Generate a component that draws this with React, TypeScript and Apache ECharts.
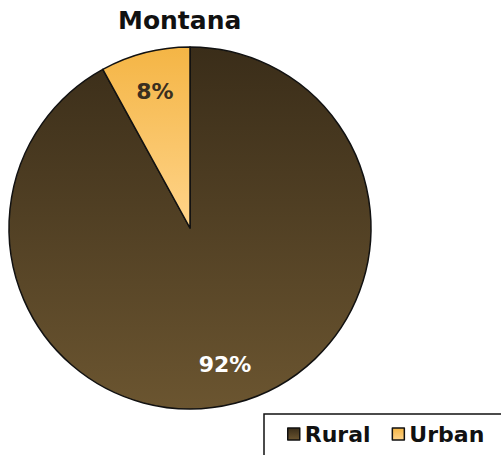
import React, { useEffect, useRef } from "react";
import * as echarts from "echarts";

const titleText = "Montana";
const categories = ["Rural", "Urban"];
const values = [92, 8];
const labelColors = ["#ffffff", "#3a2f1f"];
const gradients = [
  ["#3a2d19", "#6b5530"],
  ["#f4b545", "#ffd48a"],
];

const FONT = "'DejaVu Sans', Lato, sans-serif";

export default function App() {
  const ref = useRef<HTMLDivElement>(null);
  useEffect(() => {
    if (!ref.current) return;
    const chart = echarts.init(ref.current, null, { renderer: "svg" });
    const grad = (i: number) =>
      new echarts.graphic.LinearGradient(0, 0, 0, 1, [
        { offset: 0, color: gradients[i][0] },
        { offset: 1, color: gradients[i][1] },
      ]);
    const data = categories.map((c, i) => ({
      name: c,
      value: values[i],
      itemStyle: { color: grad(i) },
    }));
    chart.setOption({
      animation: false,
      title: {
        text: titleText,
        left: 113,
        top: 3,
        textStyle: { fontFamily: FONT, fontWeight: "bold", fontSize: 25, color: "#111" },
      },
      graphic: [
        {
          type: "rect",
          shape: { x: 264, y: 414, width: 260, height: 60 },
          style: { fill: "#fff", stroke: "#111", lineWidth: 1.5 },
          z: 0,
        },
      ],
      legend: {
        data: categories,
        left: 282,
        top: 418,
        icon: "rect",
        itemWidth: 12,
        itemHeight: 12,
        itemGap: 21,
        itemStyle: { borderColor: "#111", borderWidth: 1.5 },
        textStyle: { fontFamily: FONT, fontWeight: "bold", fontSize: 22, color: "#111" },
        z: 5,
      },
      series: [
        {
          type: "pie",
          center: [190, 228],
          radius: 181,
          startAngle: 90,
          clockwise: true,
          data,
          label: { show: false },
          labelLine: { show: false },
          itemStyle: { borderColor: "#111", borderWidth: 1.5 },
          emphasis: { disabled: true },
        },
        {
          type: "pie",
          center: [190, 228],
          radius: 276,
          startAngle: 90,
          clockwise: true,
          silent: true,
          data: categories.map((c, i) => ({
            name: c,
            value: values[i],
            label: { color: labelColors[i] },
          })),
          itemStyle: { color: "rgba(0,0,0,0)" },
          label: {
            show: true,
            position: "inside",
            formatter: (p: any) => p.value + "%",
            fontFamily: FONT,
            fontWeight: "bold",
            fontSize: 22,
          },
          labelLine: { show: false },
          emphasis: { disabled: true },
        },
      ],
    });
    return () => chart.dispose();
  }, []);
  return (
    <div
      ref={ref}
      style={{ position: "absolute", left: 0, top: 0, width: 501, height: 455 }}
    />
  );
}
